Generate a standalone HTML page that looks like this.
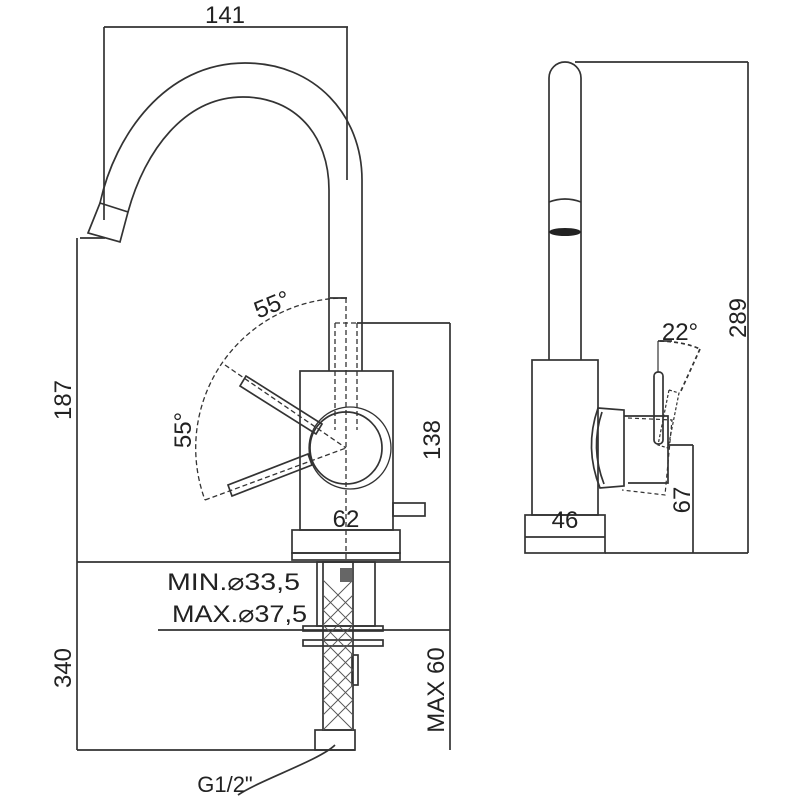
<!DOCTYPE html>
<html><head><meta charset="utf-8"><style>
html,body{margin:0;padding:0;background:#fff;}
svg{display:block;}
text{font-family:"Liberation Sans",sans-serif;fill:#222;}
</style></head><body>
<svg width="800" height="800" viewBox="0 0 800 800" xmlns="http://www.w3.org/2000/svg">
<g fill="none" stroke="#333" stroke-width="1.7">
<line x1="104" y1="27" x2="348" y2="27"/>
<line x1="104" y1="27" x2="104" y2="220"/>
<line x1="347" y1="27" x2="347" y2="180"/>
<path d="M100,203 C115,135 165,63 245,63 C315,63 362,115 362,180 L362,371"/>
<path d="M128,212 C145,150 185,97 243,97 C295,97 329,135 329,190 L329,371"/>
<path d="M100,203 L128,212 L120,242 L88,233 Z"/>
<line x1="80" y1="238" x2="105" y2="238"/>
<line x1="77" y1="238" x2="77" y2="750"/>
<rect x="300" y="371" width="93" height="159"/>
<rect x="292" y="530" width="108" height="23"/>
<rect x="292" y="553" width="108" height="7"/>
<rect x="393" y="503" width="32" height="13"/>
<g stroke-dasharray="5,3" stroke-width="1.3">
<line x1="335" y1="323" x2="335" y2="430"/>
<line x1="357" y1="323" x2="357" y2="430"/>
<line x1="335" y1="323" x2="357" y2="323"/>
<line x1="346" y1="298" x2="346" y2="560"/>
<path d="M346,298 A150,150 0 0 0 205,500"/>
<line x1="205" y1="500" x2="346" y2="448"/>
<line x1="225" y1="365" x2="346" y2="448"/>
</g>
<line x1="330" y1="298" x2="347" y2="298"/>
<circle cx="346" cy="448" r="36"/>
<circle cx="350" cy="448" r="41" stroke-width="1.3"/>
<path d="M240,386 L246,376 L322,424 L316,434 Z"/>
<path d="M228,485 L232,496 L312,465 L308,454 Z"/>
<line x1="357" y1="323" x2="450" y2="323"/>
<line x1="450" y1="323" x2="450" y2="750"/>
<line x1="77" y1="562" x2="450" y2="562"/>
<rect x="317" y="562" width="58" height="64"/>
<rect x="323" y="562" width="30" height="168"/>
<rect x="303" y="626" width="80" height="5"/>
<rect x="303" y="640" width="80" height="6"/>
<line x1="158" y1="630" x2="450" y2="630"/>
<rect x="315" y="730" width="40" height="20"/>
<line x1="77" y1="750" x2="355" y2="750"/>
<rect x="352" y="655" width="6" height="30"/>
<path d="M238,795 C260,780 320,760 335,745"/>
</g>
<g stroke="#555" stroke-width="0.9">
<path d="M323,580 L353,610 M323,595 L353,625 M323,610 L353,640 M323,625 L353,655 M323,640 L353,670 M323,655 L353,685 M323,670 L353,700 M323,685 L353,715 M323,700 L353,730 M353,580 L323,610 M353,595 L323,625 M353,610 L323,640 M353,625 L323,655 M353,640 L323,670 M353,655 L323,685 M353,670 L323,700 M353,685 L323,715 M353,700 L323,730"/>
</g>
<rect x="340" y="568" width="12" height="14" fill="#666"/>
<g fill="none" stroke="#333" stroke-width="1.7">
<path d="M549,360 L549,78 A16,16 0 0 1 581,78 L581,360"/>
<path d="M549,202 Q565,196 581,202"/>
<rect x="532" y="360" width="66" height="155"/>
<rect x="525" y="515" width="80" height="38"/>
<line x1="525" y1="537" x2="605" y2="537"/>
<line x1="575" y1="62" x2="748" y2="62"/>
<line x1="748" y1="62" x2="748" y2="553"/>
<line x1="605" y1="553" x2="748" y2="553"/>
<path d="M598,408 L624,410 L624,486 L600,488 Q584,448 598,408 Z"/>
<path d="M602,412 Q590,448 604,484"/>
<path d="M624,416 L668,416 L668,483 L628,483"/>
<path d="M628,418 L672,420 L665,495 L622,490" stroke-dasharray="4,3" stroke-width="1.2"/>
<rect x="654" y="372" width="9" height="72" rx="4"/>
<path d="M669,390 L679,393 L668,448 L658,445 Z" stroke-dasharray="3,2" stroke-width="1.2"/>
<line x1="658" y1="341" x2="658" y2="372" stroke-width="1.2"/>
<line x1="658" y1="341" x2="672" y2="341"/>
<path d="M660,341 Q685,342 700,349" stroke-dasharray="4,3"/>
<line x1="700" y1="349" x2="680" y2="393" stroke-dasharray="4,3"/>
<line x1="668" y1="445" x2="693" y2="445"/>
<line x1="693" y1="445" x2="693" y2="553"/>
</g>
<ellipse cx="565" cy="232" rx="16" ry="4" fill="#222"/>
<text x="225" y="23" font-size="24" text-anchor="middle">141</text>
<text transform="translate(71,400) rotate(-90)" font-size="24" text-anchor="middle">187</text>
<text transform="translate(275,312) rotate(-22)" font-size="24" text-anchor="middle">55°</text>
<text transform="translate(191,430) rotate(-90)" font-size="24" text-anchor="middle">55°</text>
<text transform="translate(440,440) rotate(-90)" font-size="24" text-anchor="middle">138</text>
<text x="346" y="527" font-size="24" text-anchor="middle">62</text>
<text x="167" y="590" font-size="24" textLength="133" lengthAdjust="spacingAndGlyphs">MIN.⌀33,5</text>
<text x="172" y="622" font-size="24" textLength="135" lengthAdjust="spacingAndGlyphs">MAX.⌀37,5</text>
<text transform="translate(71,668) rotate(-90)" font-size="24" text-anchor="middle">340</text>
<text transform="translate(444,690) rotate(-90)" font-size="24" text-anchor="middle">MAX 60</text>
<text x="225" y="792" font-size="22" text-anchor="middle">G1/2"</text>
<text x="565" y="528" font-size="24" text-anchor="middle">46</text>
<text x="680" y="340" font-size="24" text-anchor="middle">22°</text>
<text transform="translate(690,500) rotate(-90)" font-size="24" text-anchor="middle">67</text>
<text transform="translate(746,318) rotate(-90)" font-size="24" text-anchor="middle">289</text>
</svg>
</body></html>
